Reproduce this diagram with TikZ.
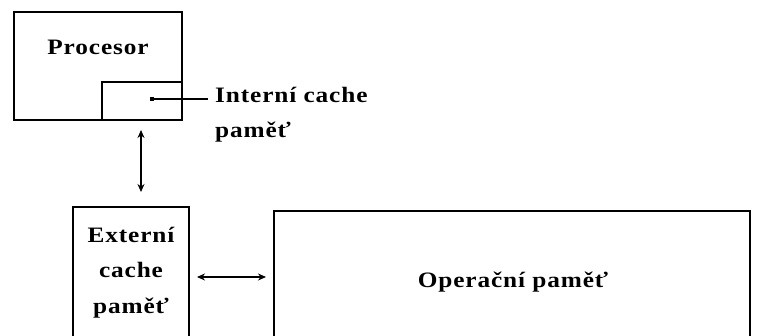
\documentclass[tikz,border=0pt]{standalone}
\usepackage{fontspec}
\newfontfamily\lblfont{Liberation Serif Bold}[FakeStretch=1.15,LetterSpace=4]
\usetikzlibrary{arrows.meta}
\begin{document}
\begin{tikzpicture}[x=1pt,y=-1pt,
  box/.style={draw,line width=1.5pt,anchor=north west,inner sep=0pt,outer sep=0pt},
  txt/.style={font=\fontsize{22}{35}\lblfont,inner sep=0pt,anchor=base},
  arr/.style={line width=1.4pt,{Stealth[length=8pt,width=7pt]}-{Stealth[length=8pt,width=7pt]}}]
\useasboundingbox (0,0) rectangle (757,336);
\clip (0,0) rectangle (757,336);
\node[box,minimum width=168pt,minimum height=108pt] (proc) at (14,12) {};
\node[box,minimum width=80pt,minimum height=38pt] (icache) at (102,82) {};
\node[box,minimum width=116pt,minimum height=140pt] (ecache) at (73,207) {};
\node[box,minimum width=476pt,minimum height=132pt] (opmem) at (274,211) {};
\node[txt] (proclbl) at (98,55) {Procesor};
\node[txt,anchor=base west] (ilbl1) at (215,103) {Interní cache};
\node[txt,anchor=base west] (ilbl2) at (215,138) {paměť};
\node[txt] (elbl1) at (131,243) {Externí};
\node[txt] (elbl2) at (131,278) {cache};
\node[txt] (elbl3) at (131,313) {paměť};
\node[txt] (olbl) at (513,288) {Operační paměť};
\fill (150,97) rectangle (154,101);
\coordinate (dot) at (152,99);
\coordinate (lineend) at (208,99);
\draw[line width=1.5pt] (dot) -- (lineend);
\draw[arr,shorten <=10pt,shorten >=15pt] (icache.south -| 141,0) -- (ecache.north -| 141,0);
\draw[arr,shorten <=8pt,shorten >=8pt] (ecache.east) -- (opmem.west |- ecache.east);
\end{tikzpicture}
\end{document}
